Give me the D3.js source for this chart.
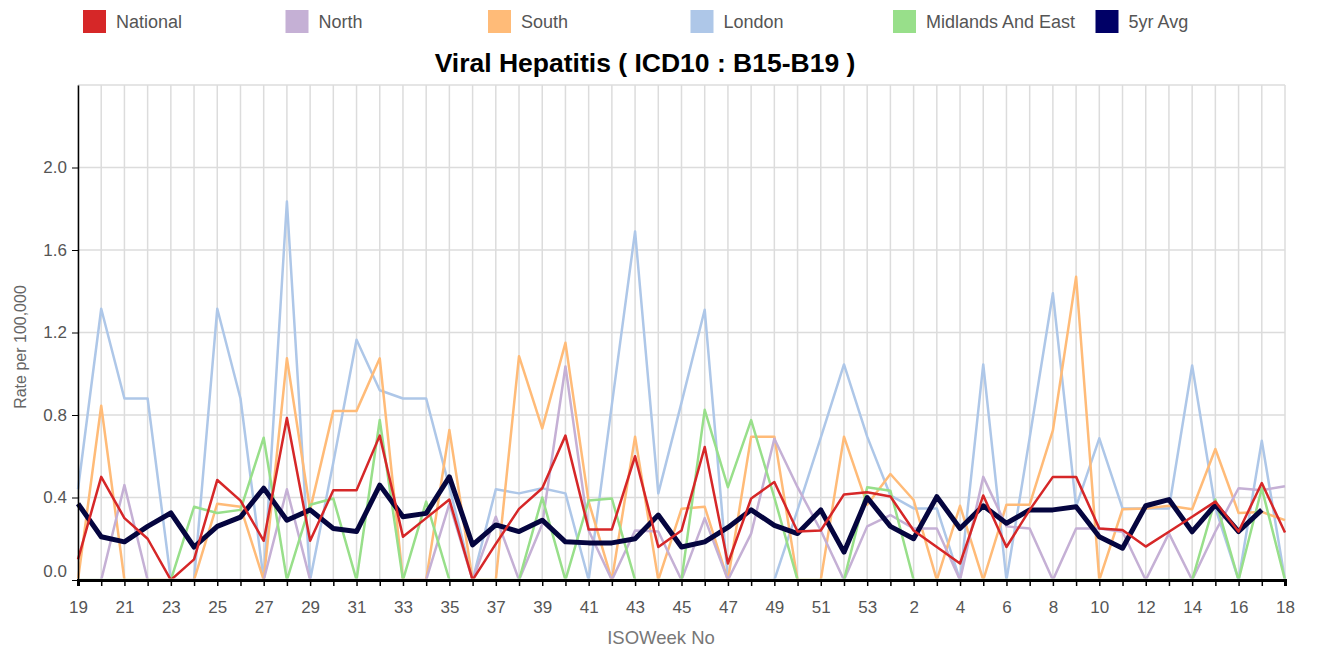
<!DOCTYPE html>
<html>
<head>
<meta charset="utf-8">
<script src="https://cdn.jsdelivr.net/npm/d3@7"></script>
<style>
  body { margin: 0; background: #fff; }
  svg { font-family: "Liberation Sans", Arial, sans-serif; }
</style>
</head>
<body>
<div id="chart"></div>
<script>
// Data
var weeks = [19,20,21,22,23,24,25,26,27,28,29,30,31,32,33,34,35,36,37,38,39,40,41,42,43,44,45,46,47,48,49,50,51,52,53,
             1,2,3,4,5,6,7,8,9,10,11,12,13,14,15,16,17,18];

var national = [0.10,0.50,0.30,0.20,0,0.10,0.485,0.385,0.19,0.785,0.19,0.435,0.435,0.70,0.21,0.30,0.39,0,0.175,0.345,
                0.445,0.70,0.245,0.245,0.60,0.16,0.24,0.645,0.08,0.395,0.475,0.235,0.24,0.415,0.425,0.405,0.24,0.16,0.08,0.41,
                0.16,0.34,0.50,0.50,0.25,0.242,0.162,0.234,0.307,0.38,0.235,0.47,0.23];
var north = [0,0,0.46,0,0,0,0,0,0,0.44,0,0,0,0,0,0,0.37,0,0.307,0,
             0.27,1.035,0.24,0,0.24,0.235,0,0.30,0,0.225,0.685,0.45,0.24,0,0.26,0.315,0.25,0.25,0,0.50,
             0.26,0.25,0,0.25,0.25,0.234,0,0.226,0,0.235,0.445,0.435,0.455];
var south = [0,0.845,0,0,0,0,0.37,0.355,0,1.075,0.34,0.82,0.82,1.075,0,0,0.727,0,0,1.085,
             0.735,1.15,0.38,0,0.695,0,0.345,0.355,0,0.695,0.695,0,0,0.695,0.365,0.514,0.388,0,0.36,0,
             0.365,0.365,0.725,1.47,0,0.343,0.347,0.36,0.343,0.635,0.325,0.33,0.29];
var london = [0.44,1.315,0.88,0.88,0,0,1.315,0.88,0,1.835,0,0.57,1.165,0.92,0.88,0.88,0.45,0,0.44,0.42,
              0.445,0.42,0,0.85,1.69,0.42,0.86,1.31,0,0,0,0.34,0.69,1.045,0.695,0.41,0.347,0.347,0,1.045,
              0,0.69,1.39,0.356,0.687,0.347,0.347,0.347,1.04,0.35,0,0.675,0];
var midlands = [0,0,0,0,0,0.355,0.325,0.34,0.69,0,0.365,0.395,0,0.776,0,0.38,0,0,0,0,
                0.40,0,0.385,0.395,0,0,0,0.825,0.45,0.775,0.40,0,0,0,0.45,0.433,0,0,0,0,
                0,0,0,0,0,0,0,0,0,0.39,0,0.445,0];
var fiveYr = [0.37,0.21,0.185,0.26,0.325,0.16,0.26,0.305,0.445,0.29,0.34,0.25,0.235,0.46,0.307,0.323,0.50,0.17,0.267,0.235,
              0.29,0.185,0.18,0.18,0.20,0.315,0.16,0.185,0.255,0.34,0.265,0.225,0.34,0.135,0.40,0.26,0.20,0.404,0.25,0.36,
              0.275,0.34,0.34,0.355,0.21,0.154,0.36,0.39,0.234,0.365,0.235,0.34,null];

var yTicks = [0, 0.4, 0.8, 1.2, 1.6, 2.0];

var series = [
    {name: "London", values: london, color: "#aec7e8", width: 2.5},
    {name: "South", values: south, color: "#ffbb78", width: 2.5},
    {name: "North", values: north, color: "#c5b0d5", width: 2.5},
    {name: "Midlands And East", values: midlands, color: "#98df8a", width: 2.5},
    {name: "5yr Avg", values: fiveYr, color: "#05053f", width: 5},
    {name: "National", values: national, color: "#d62728", width: 2.5}
];
var legendOrder = [
    {name: "National", color: "#d62728"},
    {name: "North", color: "#c5b0d5"},
    {name: "South", color: "#ffbb78"},
    {name: "London", color: "#aec7e8"},
    {name: "Midlands And East", color: "#98df8a"},
    {name: "5yr Avg", color: "#000066"}
];

var width = 1320, height = 655;
var margin = {top: 85, left: 78, right: 35, bottom: 75};

var svg = d3.select("#chart").append("svg")
    .attr("width", width)
    .attr("height", height);

// clip the lines so zero values hide under the x axis
svg.append("clipPath")
    .attr("id", "plotclip")
    .append("rect")
    .attr("x", margin.left - 5)
    .attr("y", margin.top - 5)
    .attr("width", width - margin.left - margin.right + 10)
    .attr("height", height - margin.top - margin.bottom + 3.5);

var x = d3.scalePoint()
    .domain(weeks.map(function (d, i) { return i; }))
    .range([margin.left, width - margin.right]);

var y = d3.scaleLinear()
    .domain([0, 2.4])
    .range([height - margin.bottom, margin.top]);

// grid
var grid = svg.append("g");
grid.selectAll(".vg")
    .data(weeks)
    .join("line")
    .attr("x1", function (d, i) { return x(i); })
    .attr("x2", function (d, i) { return x(i); })
    .attr("y1", margin.top)
    .attr("y2", height - margin.bottom)
    .attr("stroke", "#dcdcdc")
    .attr("stroke-width", 1.5);
grid.selectAll(".hg")
    .data(yTicks.concat([2.4]))
    .join("line")
    .attr("x1", margin.left)
    .attr("x2", width - margin.right)
    .attr("y1", function (d) { return y(d); })
    .attr("y2", function (d) { return y(d); })
    .attr("stroke", "#dcdcdc")
    .attr("stroke-width", 1.5);

// lines
var line = d3.line()
    .defined(function (d) { return d != null; })
    .x(function (d, i) { return x(i); })
    .y(function (d) { return y(d); });

svg.append("g")
    .attr("clip-path", "url(#plotclip)")
    .selectAll("path")
    .data(series)
    .join("path")
    .attr("d", function (d) { return line(d.values); })
    .attr("fill", "none")
    .attr("stroke", function (d) { return d.color; })
    .attr("stroke-width", function (d) { return d.width; })
    .attr("stroke-linejoin", "round");

// axes
var xAxis = svg.append("g")
    .attr("transform", "translate(0," + (height - margin.bottom) + ")")
    .call(d3.axisBottom(x)
        .tickSizeOuter(0)
        .tickSize(6)
        .tickPadding(15)
        .tickFormat(function (i) { return i % 2 === 0 ? weeks[i] : ""; }));
xAxis.select(".domain").attr("stroke", "#000").attr("stroke-width", 3);
xAxis.selectAll(".tick line").attr("stroke", "#000").attr("stroke-width", 1.5);
xAxis.selectAll("text").attr("fill", "#555").style("font-size", "17px");

var yAxis = svg.append("g")
    .attr("transform", "translate(" + margin.left + ",0)")
    .call(d3.axisLeft(y)
        .tickValues(yTicks)
        .tickSize(6)
        .tickSizeOuter(0)
        .tickPadding(5)
        .tickFormat(d3.format(".1f")));
yAxis.select(".domain").attr("stroke", "#000").attr("stroke-width", 1.5);
yAxis.selectAll(".tick line").attr("stroke", "#000");
yAxis.selectAll("text").attr("fill", "#555").style("font-size", "17px")
    .attr("dy", function (d) { return d === 0 ? "-0.2em" : "0.32em"; });

// axis titles
svg.append("text")
    .attr("x", 661)
    .attr("y", 644)
    .attr("text-anchor", "middle")
    .attr("fill", "#777")
    .style("font-size", "18.5px")
    .text("ISOWeek No");

svg.append("text")
    .attr("transform", "translate(26,347) rotate(-90)")
    .attr("text-anchor", "middle")
    .attr("fill", "#666")
    .style("font-size", "16px")
    .text("Rate per 100,000");

// title
svg.append("text")
    .attr("x", 645)
    .attr("y", 72)
    .attr("text-anchor", "middle")
    .attr("fill", "#000")
    .style("font-size", "26.5px")
    .style("font-weight", "bold")
    .text("Viral Hepatitis ( ICD10 : B15-B19 )");

// legend
var legend = svg.append("g").selectAll("g")
    .data(legendOrder)
    .join("g")
    .attr("transform", function (d, i) { return "translate(" + (83 + i * 202.5) + ",10)"; });
legend.append("rect")
    .attr("width", 23)
    .attr("height", 23)
    .attr("fill", function (d) { return d.color; });
legend.append("text")
    .attr("x", 33)
    .attr("y", 18)
    .attr("fill", "#555")
    .style("font-size", "18px")
    .text(function (d) { return d.name; });
</script>
</body>
</html>
